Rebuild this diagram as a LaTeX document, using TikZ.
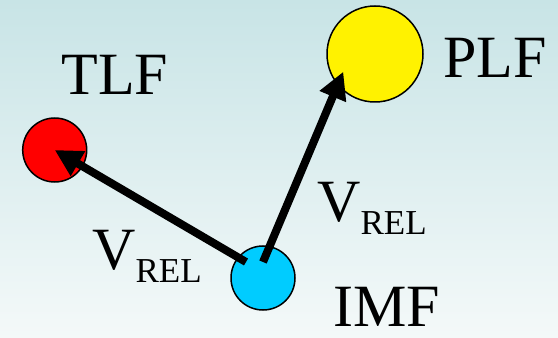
\documentclass[tikz,border=0pt]{standalone}
\usepackage{fontspec}
\setmainfont{Liberation Serif}
\usepackage{xcolor}
\usetikzlibrary{positioning,arrows.meta,calc}

\definecolor{bgtop}{HTML}{C8E4E6}
\definecolor{bgbot}{HTML}{F4F9F9}
\definecolor{imfblue}{HTML}{00CCFF}

\begin{document}
\begin{tikzpicture}[
  x=1pt, y=1pt,
  ball/.style={draw, circle, line width=1.5pt, inner sep=0pt},
  lbl/.style={inner sep=0pt, anchor=base, font=\fontsize{60pt}{60pt}\selectfont},
  vel/.style={inner sep=0pt, anchor=base west, font=\fontsize{60pt}{60pt}\selectfont},
  vrel/.style={line width=8pt, -{Triangle[length=27pt,width=27pt]}}
]
\shade[top color=bgtop, bottom color=bgbot] (0,0) rectangle (558,338);
\useasboundingbox (0,0) rectangle (558,338);

\node[ball, fill=red, minimum size=64pt] (tlf) at (54.7,188) {};
\node[ball, fill=yellow, minimum size=96pt] (plf) at (375,284) {};
\node[ball, fill=imfblue, minimum size=64pt] (imf) at (263,60) {};

\node[lbl] (tlflbl) at (115,243) {TLF};
\node[lbl] (plflbl) at (495,260) {PLF};
\node[lbl] (imflbl) at (387,12) {IMF};

\coordinate (s1) at ($(imf.center)+(-17,16)$);
\coordinate (s2) at ($(imf.center)+(0,16)$);
\coordinate (t2) at ($(plf.center)+(-31.7,-17.7)$);
\draw[vrel] (s1) -- (tlf.center);
\draw[vrel] (s2) -- (t2);

\node[vel] (vleft) at (92,68)
  {V\raisebox{-13pt}{\fontsize{35pt}{35pt}\selectfont REL}};
\node[vel] (vright) at (317,116)
  {V\raisebox{-13pt}{\fontsize{35pt}{35pt}\selectfont REL}};
\end{tikzpicture}
\end{document}
